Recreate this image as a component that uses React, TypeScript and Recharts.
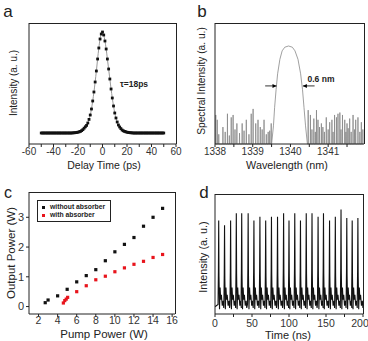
import React from 'react'
import {
  ComposedChart,
  Line,
  Scatter,
  XAxis,
  YAxis,
  ReferenceLine,
} from 'recharts'

const FONT = '"Liberation Sans", Arial, Helvetica, sans-serif'

// (a) autocorrelation trace
const delayTimes = [
  -50, -49, -48, -47, -46, -45, -44, -43, -42, -41, -40, -39, -38, -37, -36, -35, -34,
  -33, -32, -31, -30, -29, -28, -27, -26, -25, -24, -23, -22, -21, -20, -19, -18, -17,
  -16, -15, -14, -13, -12, -11, -10, -9, -8, -7, -6, -5, -4, -3, -2, -1, 0, 1, 2, 3, 4,
  5, 6, 7, 8, 9, 10, 11, 12, 13, 14, 15, 16, 17, 18, 19, 20, 21, 22, 23, 24, 25, 26, 27,
  28, 29, 30, 31, 32, 33, 34, 35, 36, 37, 38, 39, 40, 41, 42, 43, 44, 45, 46, 47, 48,
  49, 50,
]
const delayIntensity = [
  0, 0, 0, 0, 0, 0, 0, 0, 0, 0, 0, 0, 0, 0, 0, 0, 0,
  0, 0, 0, 0, 0, 0, 0, 0, 0, 0.01, 0.01, 0.02, 0.03, 0.04, 0.06, 0.08, 0.12,
  0.17, 0.24, 0.31, 0.38, 0.5, 0.68, 0.9, 1.2, 1.6, 2.05, 2.55, 3.1, 3.7, 4.25, 4.7, 4.95, 5.05, 4.9, 4.6, 4.2, 3.7,
  3.2, 2.7, 2.2, 1.75, 1.35, 1.0, 0.75, 0.55, 0.4, 0.3, 0.22, 0.15, 0.11, 0.08, 0.06, 0.04, 0.03, 0.02, 0.01, 0.01, 0, 0, 0,
  0, 0, 0, 0, 0, 0, 0, 0, 0, 0, 0, 0, 0, 0, 0, 0, 0, 0, 0, 0, 0,
  0, 0,
]
const delayTicks = [-60, -50, -40, -30, -20, -10, 0, 10, 20, 30, 40, 50, 60]

// (b) optical spectrum
const peakWl = [1339.5, 1339.55, 1339.58, 1339.62, 1339.66, 1339.72, 1339.78, 1339.85, 1339.95, 1340.05, 1340.12, 1340.2, 1340.27, 1340.32, 1340.36, 1340.4, 1340.45]
const peakLevel = [0, 0.15, 0.3, 0.45, 0.58, 0.7, 0.77, 0.8, 0.81, 0.8, 0.77, 0.7, 0.58, 0.45, 0.3, 0.15, 0]
const spikeWl = [
  1338.02, 1338.06, 1338.1, 1338.21, 1338.27, 1338.33, 1338.38, 1338.43, 1338.48, 1338.53,
  1338.58, 1338.65, 1338.72, 1338.77, 1338.83, 1338.9, 1338.96, 1339.01, 1339.08, 1339.14,
  1339.2, 1339.25, 1339.3, 1339.36, 1339.41, 1339.45, 1339.49,
  1340.47, 1340.53, 1340.57, 1340.62, 1340.66, 1340.69, 1340.73, 1340.77, 1340.82, 1340.86,
  1340.9, 1340.95, 1341.0, 1341.04, 1341.1, 1341.13, 1341.17, 1341.22, 1341.26, 1341.31,
  1341.34, 1341.38, 1341.44, 1341.47, 1341.5, 1341.53, 1341.57, 1341.61, 1341.66, 1341.7,
  1341.73, 1341.79, 1341.84, 1341.88, 1341.92,
]
const spikeLevel = [
  0.24, 0.2, 0.08, 0.14, 0.1, 0.25, 0.07, 0.22, 0.24, 0.12,
  0.17, 0.09, 0.17, 0.11, 0.2, 0.08, 0.25, 0.29, 0.17, 0.2,
  0.14, 0.12, 0.2, 0.08, 0.1, 0.11, 0.17,
  0.28, 0.24, 0.12, 0.21, 0.1, 0.28, 0.2, 0.14, 0.17, 0.14,
  0.1, 0.22, 0.12, 0.18, 0.2, 0.1, 0.24, 0.22, 0.25, 0.26,
  0.12, 0.24, 0.2, 0.1, 0.17, 0.13, 0.21, 0.1, 0.24, 0.12,
  0.2, 0.22, 0.1, 0.18, 0.12,
]
const wlTicks = [1338, 1338.5, 1339, 1339.5, 1340, 1340.5, 1341, 1341.5]
const specYTicks = [0.09, 0.318, 0.545, 0.773, 1]

// (c) output power vs pump power
const pumpNoAbs = [2.7, 3, 4, 5, 6, 7, 8, 9, 10, 11, 12, 13, 14, 15]
const outNoAbs = [0.13, 0.22, 0.36, 0.58, 0.83, 1.04, 1.24, 1.54, 1.84, 2.09, 2.32, 2.7, 3.0, 3.3]
const pumpAbs = [4.6, 4.75, 4.9, 5.05, 6, 7, 8, 9, 10, 11, 12, 13, 14, 15]
const outAbs = [0.12, 0.2, 0.25, 0.31, 0.5, 0.7, 0.9, 1.02, 1.17, 1.3, 1.42, 1.52, 1.65, 1.75]

// (d) pulse train
const pulseTimes = [
  5.0, 12.9, 21.1, 28.8, 36.1, 44.8, 52.6, 60.7, 68.5, 76.3, 84.5, 92.7, 100.0,
  107.8, 115.5, 123.3, 131.1, 139.3, 146.6, 154.8, 162.6, 170.3, 178.1, 185.4, 193.1,
]
const pulseHeights = [
  0.78, 0.74, 0.78, 0.84, 0.84, 0.84, 0.78, 0.81, 0.78, 0.81, 0.81, 0.84, 0.78,
  0.84, 0.78, 0.84, 0.84, 0.81, 0.84, 0.78, 0.81, 0.87, 0.8, 0.78, 0.8,
]
// shape around each spike (ns offset, level); index 2 is the spike top
const pulseOffsets = [-0.9, -0.4, 0, 0.4, 1.1, 1.9, 2.7, 3.6, 4.8, 6.0, 6.8]
const pulseLevels = [0.08, 0.45, 0, 0.4, 0.04, 0.22, 0.12, 0.16, 0.07, 0.11, 0.05]

const autocorr = delayTimes.map((x, i) => ({ x, y: delayIntensity[i] }))

const spectrum = [
  ...spikeWl.flatMap((w, i) => [
    { x: w - 0.004, y: 0 },
    { x: w, y: spikeLevel[i] },
    { x: w + 0.004, y: 0 },
  ]),
  ...peakWl.map((w, i) => ({ x: w, y: peakLevel[i] })),
].sort((a, b) => a.x - b.x)

const noAbs = pumpNoAbs.map((x, i) => ({ x, y: outNoAbs[i] }))
const withAbs = pumpAbs.map((x, i) => ({ x, y: outAbs[i] }))

const train = [
  { x: 0, y: 0.06 },
  ...pulseTimes.flatMap((t, i) =>
    pulseOffsets.map((o, j) => ({
      x: t + o,
      y: j === 2 ? pulseHeights[i] : j === 1 || j === 3 ? pulseLevels[j] * pulseHeights[i] : pulseLevels[j],
    }))
  ),
].filter((p) => p.x <= 200)

const fwhmArrows = [
  { x: 1339.63, y: 0.48, dir: 1 },
  { x: 1340.33, y: 0.48, dir: -1 },
]

const tickStyle = (size: number) => ({ fontSize: size, fill: '#333', fontFamily: FONT })

const Square = (color: string) => (props: any) => (
  <rect x={props.cx - 1.6} y={props.cy - 1.6} width={3.2} height={3.2} fill={color} />
)

const Arrow = (props: any) => {
  const { cx, cy, payload } = props
  const d = payload.dir
  return <path d={`M${cx},${cy} L${cx - d * 4},${cy - 2} L${cx - d * 4},${cy + 2} Z`} fill="#000" />
}

const Dot = (props: any) => (
  <rect key={props.index} x={props.cx - 1.4} y={props.cy - 1.4} width={2.8} height={2.8} fill="#111" />
)

// keeps the last label of panel d inside the picture
const TimeTick = (props: any) => {
  const { x, y, payload } = props
  if (payload.value % 50 !== 0) return null
  const dx = payload.value === 200 ? -3 : 0
  return (
    <text x={x + dx} y={y + 8} textAnchor="middle" fontSize={10.5} fill="#333" fontFamily={FONT}>
      {payload.value}
    </text>
  )
}

function Text({ x, y, size, bold, rotate, color, children }: any) {
  return (
    <div
      style={{
        position: 'absolute',
        left: x,
        top: y,
        transform: `translate(-50%, -50%)${rotate ? ' rotate(-90deg)' : ''}`,
        fontSize: size,
        fontWeight: bold ? 'bold' : 'normal',
        fontFamily: FONT,
        color: color || '#222',
        whiteSpace: 'nowrap',
        lineHeight: 1,
      }}
    >
      {children}
    </div>
  )
}

// top and right edges of a plot box (left/bottom come from the axes)
function Box({ x0, y0, x1, y1 }: any) {
  return (
    <div
      style={{
        position: 'absolute',
        left: x0,
        top: y0,
        width: x1 - x0,
        height: y1 - y0,
        borderTop: '1px solid #222',
        borderRight: '1px solid #222',
        boxSizing: 'border-box',
        pointerEvents: 'none',
      }}
    />
  )
}

export default function App() {
  return (
    <div style={{ position: 'absolute', left: 0, top: 0, width: 368, height: 341, background: '#fff', overflow: 'hidden' }}>
      {/* a */}
      <div style={{ position: 'absolute', left: 0, top: 0 }}>
        <ComposedChart width={184} height={170} margin={{ top: 23, right: 8, left: 0, bottom: 0 }}>
          <XAxis
            type="number"
            dataKey="x"
            domain={[-60, 60]}
            ticks={delayTicks}
            tickFormatter={(v: number) => (v % 20 === 0 ? String(v) : '')}
            height={26}
            tickSize={3}
            tickMargin={1}
            stroke="#222"
            tick={tickStyle(10)}
            interval={0}
          />
          <YAxis type="number" domain={[-0.55, 5.5]} ticks={[0, 1, 2, 3, 4, 5]} width={29} tick={false} tickSize={3} stroke="#222" />
          <Line
            data={autocorr}
            dataKey="y"
            type="monotone"
            stroke="#999"
            strokeWidth={1}
            dot={Dot}
            isAnimationActive={false}
          />
        </ComposedChart>
      </div>

      {/* b */}
      <div style={{ position: 'absolute', left: 184, top: 0 }}>
        <ComposedChart width={184} height={170} margin={{ top: 23, right: 4, left: 0, bottom: 0 }}>
          <XAxis
            type="number"
            dataKey="x"
            domain={[1338, 1341.95]}
            ticks={wlTicks}
            tickFormatter={(v: number) => (Number.isInteger(v) ? String(v) : '')}
            allowDataOverflow
            height={26}
            tickSize={3}
            tickMargin={1}
            stroke="#222"
            tick={tickStyle(10)}
            interval={0}
          />
          <YAxis type="number" domain={[0, 1]} ticks={specYTicks} width={31} tick={false} tickSize={3} stroke="#222" />
          <Line data={spectrum} dataKey="y" type="linear" stroke="#888" strokeWidth={0.8} dot={false} isAnimationActive={false} />
          <ReferenceLine segment={[{ x: 1339.33, y: 0.48 }, { x: 1339.63, y: 0.48 }]} stroke="#000" strokeWidth={0.8} />
          <ReferenceLine segment={[{ x: 1340.33, y: 0.48 }, { x: 1340.64, y: 0.48 }]} stroke="#000" strokeWidth={0.8} />
          <Scatter data={fwhmArrows} dataKey="y" shape={Arrow} isAnimationActive={false} />
        </ComposedChart>
      </div>

      {/* c */}
      <div style={{ position: 'absolute', left: 0, top: 170 }}>
        <ComposedChart width={184} height={171} margin={{ top: 22, right: 9, left: 0, bottom: 0 }}>
          <XAxis
            type="number"
            dataKey="x"
            domain={[1, 16.3]}
            ticks={[2, 4, 6, 8, 10, 12, 14, 16]}
            allowDataOverflow
            height={27}
            tickSize={3}
            tickMargin={0}
            stroke="#222"
            tick={tickStyle(10.5)}
            interval={0}
          />
          <YAxis
            type="number"
            dataKey="y"
            domain={[-0.25, 3.85]}
            ticks={[0, 1, 2, 3]}
            allowDataOverflow
            width={29}
            tickSize={3}
            tickMargin={2}
            stroke="#222"
            tick={tickStyle(11)}
          />
          <Scatter data={noAbs} dataKey="y" shape={Square('#111')} isAnimationActive={false} />
          <Scatter data={withAbs} dataKey="y" shape={Square('#e8141c')} isAnimationActive={false} />
        </ComposedChart>
      </div>

      {/* d */}
      <div style={{ position: 'absolute', left: 184, top: 170 }}>
        <ComposedChart width={184} height={171} margin={{ top: 24, right: 5, left: 0, bottom: 0 }}>
          <XAxis
            type="number"
            dataKey="x"
            domain={[0, 200]}
            ticks={[0, 25, 50, 75, 100, 125, 150, 175, 200]}
            allowDataOverflow
            height={27}
            tickSize={3}
            stroke="#222"
            tick={TimeTick}
            interval={0}
          />
          <YAxis type="number" domain={[0, 1]} ticks={[0.16, 0.325, 0.49, 0.66, 0.825]} width={31} tick={false} tickSize={3} stroke="#222" />
          <Line data={train} dataKey="y" type="linear" stroke="#111" strokeWidth={1.1} dot={false} isAnimationActive={false} />
        </ComposedChart>
      </div>

      <Box x0={29} y0={23} x1={177} y1={144} />
      <Box x0={215} y0={23} x1={365} y1={144} />
      <Box x0={29} y0={192} x1={176} y1={314} />
      <Box x0={215} y0={194} x1={364} y1={314} />

      {/* panel letters */}
      <Text x={8} y={11} size={17}>a</Text>
      <Text x={202} y={11} size={17}>b</Text>
      <Text x={8} y={193} size={16}>c</Text>
      <Text x={204} y={192} size={17}>d</Text>

      {/* axis titles */}
      <Text x={14} y={83} size={10} rotate>Intensity (a. u.)</Text>
      <Text x={104} y={165} size={10.5}>Delay Time (ps)</Text>
      <Text x={202} y={81} size={10.2} rotate>Spectral Intensity (a. u.)</Text>
      <Text x={287} y={165} size={10.8}>Wavelength (nm)</Text>
      <Text x={12} y={253} size={11.5} rotate>Output Power (W)</Text>
      <Text x={104} y={335} size={11.5}>Pump Power (W)</Text>
      <Text x={203} y={257} size={10.8} rotate>Intensity (a. u.)</Text>
      <Text x={288} y={335} size={11}>Time (ns)</Text>

      {/* annotations */}
      <Text x={134} y={84} size={8.5} bold>τ=18ps</Text>
      <Text x={321} y={79} size={8.5} bold>0.6 nm</Text>

      {/* legend for c */}
      <div
        style={{
          position: 'absolute',
          left: 37,
          top: 200,
          width: 74,
          height: 22,
          border: '1px solid #222',
          boxSizing: 'border-box',
          fontFamily: FONT,
          fontSize: 6.8,
          fontWeight: 'bold',
          color: '#222',
          lineHeight: '8px',
          padding: '2px 0 0 4px',
          whiteSpace: 'nowrap',
        }}
      >
        <div style={{ display: 'flex', alignItems: 'center' }}>
          <span style={{ width: 3, height: 3, background: '#111', marginRight: 5, flexShrink: 0 }} />
          without absorber
        </div>
        <div style={{ display: 'flex', alignItems: 'center' }}>
          <span style={{ width: 3, height: 3, background: '#e8141c', marginRight: 5, flexShrink: 0 }} />
          with absorber
        </div>
      </div>
    </div>
  )
}
